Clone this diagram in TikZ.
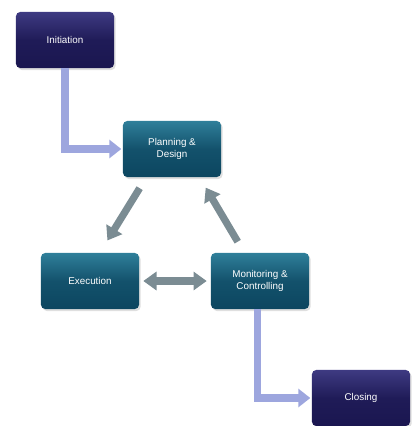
\documentclass[tikz,border=0pt]{standalone}
\usepackage{fontspec}
\setsansfont{Liberation Sans}
\usetikzlibrary{arrows.meta,calc,shadows}
\definecolor{navytop}{HTML}{3E3A82}
\definecolor{navybot}{HTML}{1A1650}
\definecolor{tealtop}{HTML}{2F7F9A}
\definecolor{tealbot}{HTML}{0C4660}
\definecolor{lavarrow}{HTML}{9DA6DE}
\definecolor{grayarrow}{HTML}{7B8C93}
\tikzset{
  phase/.style={rounded corners=3pt, minimum width=2.45cm, minimum height=1.4cm,
    align=center, text=white, font=\sffamily\fontsize{7}{8.5}\selectfont,
    drop shadow={opacity=0.25, shadow xshift=0.04cm, shadow yshift=-0.05cm}},
  navybox/.style={phase, top color=navytop, bottom color=navybot, middle color=navybot!85!navytop},
  tealbox/.style={phase, top color=tealtop, bottom color=tealbot, middle color=tealbot!80!tealtop},
  lavline/.style={draw=lavarrow, line width=0.18cm, -{Triangle[width=0.45cm,length=0.3cm]}},
  grayline/.style={draw=grayarrow, line width=0.18cm, -{Triangle[width=0.45cm,length=0.33cm]}}
}
\begin{document}
\begin{tikzpicture}[x=0.025cm,y=-0.025cm]
        \useasboundingbox (0,0) rectangle (417,426);
        \node[navybox] (init) at (65,40) {Initiation};
        \node[tealbox] (plan) at (172,149) {Planning \&\\Design};
        \node[tealbox] (exec) at (90,281) {Execution};
        \node[tealbox] (mon) at (260,281) {Monitoring \&\\Controlling};
        \node[navybox] (close) at (361,398) {Closing};
        \draw[lavline, shorten >=1pt] (init.south) |- (plan.west);
        \draw[lavline, shorten >=1pt] ([xshift=-2]mon.south) |- (close.west);
        \draw[grayline, shorten <=0.32cm, shorten >=0.36cm]
            ($(plan.south west)!0.24!(plan.south east)$) -- ($(exec.north west)!0.6!(exec.north east)$);
        \draw[grayline, shorten <=0.32cm, shorten >=0.3cm]
            ($(mon.north west)!0.34!(mon.north east)$) -- ($(plan.south west)!0.78!(plan.south east)$);
        \draw[grayline, {Triangle[width=0.45cm,length=0.33cm]}-{Triangle[width=0.45cm,length=0.33cm]}, shorten <=0.1cm, shorten >=0.1cm]
            (exec.east) -- (mon.west);
\end{tikzpicture}
\end{document}
